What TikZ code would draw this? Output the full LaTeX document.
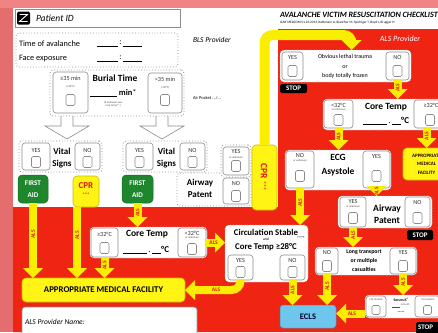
\documentclass[tikz,border=0pt]{standalone}
\usepackage{fontspec}
\setmainfont{Carlito}
\usetikzlibrary{arrows.meta,calc}
\definecolor{pinkbg}{RGB}{240,132,132}
\definecolor{leftbg}{RGB}{228,110,110}
\definecolor{alsred}{RGB}{240,36,18}
\definecolor{alsyel}{RGB}{250,238,0}
\definecolor{yelbox}{RGB}{255,244,20}
\definecolor{yeledge}{RGB}{200,190,0}
\definecolor{greenbox}{RGB}{30,135,45}
\definecolor{eclsblue}{RGB}{110,198,236}
\definecolor{boxgray}{RGB}{140,140,140}
\definecolor{textred}{RGB}{225,20,20}
\newcommand\fsz[2]{\fontsize{#1}{#2}\selectfont}
\newcommand\mybox[6]{\node[#1, anchor=north west, minimum width={(#5-#3)*1pt}, minimum height={(#6-#4)*1pt}] (#2) at (#3,#4) {};}
\newcommand\myblank[1]{\underline{\hspace{#1}}}
\begin{document}
\begin{tikzpicture}[x=1pt,y=-1pt,
  box/.style={draw=boxgray, fill=white, rounded corners=3pt, line width=0.6pt, inner sep=0pt, outer sep=0pt},
  dbox/.style={draw=boxgray, fill=white, rounded corners=3pt, line width=0.8pt, dotted, inner sep=0pt, outer sep=0pt},
  obox/.style={draw=boxgray!60, fill=white, rounded corners=4pt, line width=0.8pt, dotted, inner sep=0pt, outer sep=0pt},
  pbox/.style={draw=boxgray, fill=white, line width=0.7pt, inner sep=0pt, outer sep=0pt},
  gbox/.style={draw=greenbox!80!black, fill=greenbox, rounded corners=4pt, line width=0.5pt, inner sep=0pt, outer sep=0pt},
  ybox/.style={draw=yeledge, fill=yelbox, rounded corners=4pt, line width=0.6pt, inner sep=0pt, outer sep=0pt},
  bbox/.style={draw=eclsblue!70!black, fill=eclsblue, rounded corners=3pt, line width=0.5pt, inner sep=0pt, outer sep=0pt},
  stopbox/.style={fill=black, rounded corners=1.5pt, inner sep=0pt, outer sep=0pt},
  chk/.style={draw=boxgray, fill=white, rounded corners=1.5pt, line width=0.6pt, minimum width=9pt, minimum height=11pt, inner sep=0pt},
  schk/.style={chk, minimum width=8pt, minimum height=9pt},
  txt/.style={inner sep=0pt, outer sep=0pt, align=center},
  yn/.style={txt, font=\fsz{6.2}{7}, text=black!80},
  tiny/.style={txt, font=\fsz{2.8}{3.2}, text=black!70},
  bt/.style={txt, font=\bfseries\fsz{9.5}{10}},
  stoptxt/.style={txt, font=\bfseries\fsz{7}{7}, text=white},
  als/.style={draw=alsyel, line width=8pt, -{Triangle[width=20pt,length=10pt,line width=0pt]}},
  alslab/.style={txt, font=\bfseries\fsz{5.5}{6}, text=textred, rotate=90},
  alslabh/.style={txt, font=\bfseries\fsz{5.5}{6}, text=textred},
  hollow/.style={draw=boxgray, line width=0.6pt, line join=miter}
]
\useasboundingbox (0,0) rectangle (438,332);
\clip (0,0) rectangle (438,332);
% background
\fill[pinkbg] (0,0) rectangle (438,332);
\fill[leftbg] (0,8) rectangle (13,332);
\fill[white] (13,8) rectangle (438,332);
\fill[alsred] (278,29) -- (438,29) -- (438,332) -- (13,332) -- (13,207) -- (278,207) -- cycle;

% patient id
\mybox{pbox}{pid}{15}{9}{180}{27}
\node[fill=black, rounded corners=1.5pt, minimum size=13pt, inner sep=0pt] (icon) at (23.5,18) {};
\draw[white, line width=0.9pt] (19.5,14.5) -- (27.5,14.5) -- (19.5,21.5) -- (27.5,21.5);
\node[txt, anchor=west, font=\itshape\fsz{9.5}{11}] (pidt) at (36,18) {Patient ID};

% time
\mybox{dbox}{timebox}{16}{33}{178}{67}
\node[txt, anchor=west, font=\fsz{8.3}{9}] (ta) at (19,44) {Time of avalanche};
\node[txt, anchor=west, font=\fsz{8.3}{9}] (fe) at (19,59) {Face exposure};
\node[txt, anchor=west, font=\fsz{8.3}{9}] (tab) at (97,44) {\myblank{21pt}\,:\,\myblank{19pt}};
\node[txt, anchor=west, font=\fsz{8.3}{9}] (feb) at (97,59) {\myblank{21pt}\,:\,\myblank{19pt}};

\node[txt, anchor=west, font=\itshape\fsz{7.5}{9}] (bls) at (193,40) {BLS Provider};
\node[txt, anchor=west, font=\fsz{4.5}{5}] (apk) at (193,98) {Air Pocket .../...};

% burial
\mybox{dbox}{burial}{50}{70}{184}{116}
\mybox{box}{le35}{53}{72}{88}{113}
\node[yn] (le35a) at (70.5,78) {≤35 min};
\node[tiny] (le35b) at (70.5,87) {(≥32°C)};
\node[chk] (le35c) at (70.5,100) {};
\node[bt] (btt) at (115,78) {Burial Time};
\node[txt, anchor=west, font=\fsz{8.5}{9}] (btb) at (90,93) {\myblank{27pt}\ \textbf{min}*};
\node[tiny] (btu) at (113,104) {(if unknown use\\core temp**)};
\mybox{box}{gt35}{148}{73}{182}{113}
\node[yn] (gt35a) at (165,79) {>35 min};
\node[tiny] (gt35b) at (165,88) {(<32°C)};
\node[chk] (gt35c) at (165,100) {};

% hollow arrows
\draw[hollow] (61,116) -- (61,126) -- (45,126) -- (67,139) -- (89,126) -- (73,126) -- (73,116);
\draw[hollow] (156,116) -- (156,126) -- (140,126) -- (162,139) -- (184,126) -- (168,126) -- (168,116);

% vital signs left
\mybox{dbox}{vitL}{19}{141}{102}{172}
\mybox{box}{yes1}{22}{143}{50}{170}
\node[yn] (yes1t) at (36,151) {YES};
\node[chk] (yes1c) at (36,162) {};
\node[txt, font=\bfseries\fsz{9}{12}] (vit1) at (62,158) {Vital\\Signs};
\mybox{box}{no1}{75}{143}{100}{170}
\node[yn] (no1t) at (87.5,151) {NO};
\node[chk] (no1c) at (87.5,162) {};

% vital signs right
\mybox{dbox}{vitR}{123}{141}{207}{172}
\mybox{box}{yes2}{126}{143}{153}{170}
\node[yn] (yes2t) at (139.5,151) {YES};
\node[chk] (yes2c) at (139.5,162) {};
\node[txt, font=\bfseries\fsz{9}{12}] (vit2) at (166.5,158) {Vital\\Signs};
\mybox{box}{no2}{180}{143}{205}{170}
\node[yn] (no2t) at (192.5,151) {NO};
\node[chk] (no2c) at (192.5,162) {};

% first aid / cpr
\mybox{gbox}{fa1}{18}{175}{48}{203}
\node[txt, font=\bfseries\fsz{7.2}{12}, text=white] (fa1t) at (fa1) {FIRST\\AID};
\mybox{ybox}{cpr1}{73}{176}{99}{207}
\node[txt, font=\bfseries\fsz{9}{9}, text=textred] (cpr1t) at (86,186) {CPR};
\node[txt, font=\bfseries\fsz{5}{5}, text=textred] (cpr1d) at (86,195) {***};
\mybox{gbox}{fa2}{122}{175}{153}{203}
\node[txt, font=\bfseries\fsz{7.2}{12}, text=white] (fa2t) at (fa2) {FIRST\\AID};

% airway (BLS)
\mybox{dbox}{awBo}{177}{173}{251}{206}
\mybox{dbox}{awBy}{221}{145}{251}{177}
\mybox{box}{yes3}{223}{147}{249}{175}
\node[yn] (yes3t) at (236,152) {YES};
\node[tiny] (yes3u) at (236,157.5) {or unknown};
\node[chk] (yes3c) at (236,166) {};
\node[txt, font=\bfseries\fsz{9}{12}] (aw1) at (200,188.5) {Airway\\Patent};
\mybox{box}{no3}{223}{178}{249}{204}
\node[yn] (no3t) at (236,184) {NO};
\node[chk] (no3c) at (236,196) {};

% big CPR and loop
\mybox{ybox}{cprB}{252}{145}{277}{210}
\node[txt, rotate=-90, font=\bfseries\fsz{9.5}{10}, text=textred] (cprBt) at (264,171) {CPR};
\node[txt, rotate=-90, font=\bfseries\fsz{6}{6}, text=textred] (cprBd) at (264,186) {***};

% header
\node[txt, anchor=west, font=\bfseries\itshape\fsz{8.1}{9}] (hd) at (280,15) {AVALANCHE VICTIM RESUSCITATION CHECKLIST};
\node[txt, anchor=west, font=\fsz{3.4}{3.5}] (hd2) at (280,23) {ICAR MEDCOM 01.23.2013, Kottmann A, Blancher M, Spichiger T, Boyd J, Brugger H};
\node[txt, font=\itshape\fsz{8}{9}, text=white] (alsp) at (400,39) {ALS Provider};

% lethal
\mybox{obox}{lethal}{280}{50}{411}{82}
\mybox{box}{yesL}{282}{52}{303}{80}
\node[yn] (yesLt) at (292.5,58) {YES};
\node[chk] (yesLc) at (292.5,71) {};
\node[txt, font=\fsz{6}{9.5}] (leth) at (345,66.5) {Obvious lethal trauma\\or\\body totally frozen};
\mybox{box}{noL}{386}{52}{409}{80}
\node[yn] (noLt) at (397.5,58) {NO};
\node[chk] (noLc) at (397.5,71) {};
\mybox{stopbox}{stop1}{280}{84}{307}{93}
\node[stoptxt] (stop1t) at (stop1) {STOP};

\draw[als, line width=10pt, rounded corners=8pt] (cprB.north) |- ($(lethal.north)+(6,-15)$) -- ($(lethal.north)+(6,0)$);

% core temp right
\mybox{obox}{coreR}{323}{99}{448}{130}
\mybox{box}{lt32R}{324}{100}{353}{128}
\node[yn] (lt32Rt) at (338.5,105) {<32°C};
\node[tiny] (lt32Ru) at (338.5,110) {or unknown};
\node[chk] (lt32Rc) at (338.5,120) {};
\node[bt] (ctR) at (386,107) {Core Temp};
\node[txt, font=\fsz{9}{10}] (ctRb) at (386,121) {\myblank{24pt}\,.\,\myblank{9pt}\textbf{°C}};
\mybox{box}{ge32R}{414}{100}{448}{128}
\node[yn] (ge32Rt) at (431,105) {≥32°C};
\node[chk] (ge32Rc) at (430,120) {};

\mybox{ybox}{facR}{403}{148}{450}{180}
\node[txt, font=\bfseries\fsz{5}{8.5}, text=black!85!red] (facRt) at (facR) {APPROPRIATE\\MEDICAL\\FACILITY};

% ECG
\mybox{obox}{ecg}{285}{150}{391}{190}
\mybox{box}{noE}{286}{151}{314}{188}
\node[yn] (noEt) at (300,156) {NO};
\node[tiny] (noEu) at (300,161) {or unknown};
\node[chk] (noEc) at (300,176) {};
\node[txt, font=\bfseries\fsz{9.5}{14}] (ecgt) at (338,165) {ECG\\Asystole};
\mybox{box}{yesE}{363}{151}{390}{188}
\node[yn] (yesEt) at (376.5,157) {YES};
\node[chk] (yesEc) at (376.5,176) {};

% airway ALS
\mybox{obox}{awR}{338}{196}{432}{228}
\mybox{box}{yesA}{340}{197}{366}{227}
\node[yn] (yesAt) at (353,202) {YES};
\node[tiny] (yesAu) at (353,207) {or unknown};
\node[chk] (yesAc) at (353,218) {};
\node[txt, font=\bfseries\fsz{9.5}{12}] (awRt) at (387,214) {Airway\\Patent};
\mybox{box}{noA}{405}{197}{430}{227}
\node[yn] (noAt) at (417.5,203) {NO};
\node[chk] (noAc) at (417.5,218) {};
\mybox{stopbox}{stop2}{407}{230}{433}{240}
\node[stoptxt] (stop2t) at (stop2) {STOP};

% long transport
\mybox{obox}{longT}{315}{247}{417}{275}
\mybox{box}{noLT}{316}{248}{338}{274}
\node[yn] (noLTt) at (327,253) {NO};
\node[chk] (noLTc) at (327,266) {};
\node[txt, font=\bfseries\fsz{5.8}{9}] (ltt) at (364,261) {Long transport\\or multiple\\casualties};
\mybox{box}{yesLT}{390}{248}{416}{274}
\node[yn] (yesLTt) at (403,253) {YES};
\node[chk] (yesLTc) at (403,266) {};

% serum
\mybox{obox}{serum}{365}{295}{448}{318}
\mybox{box}{le12}{366}{296}{386}{317}
\node[tiny] (le12t) at (376,300) {≤12 mmol/L};
\node[schk] (le12c) at (376,310) {};
\node[txt, font=\bfseries\fsz{3.8}{4}] (ser1) at (401,300) {Serum K\textsuperscript{+}};
\node[tiny] (ser2) at (401,306) {\myblank{8pt} mmol/L};
\node[txt, font=\bfseries\fsz{5}{5}] (ser3) at (401,312) {.....};
\mybox{box}{gt12}{415}{296}{440}{317}
\node[tiny] (gt12t) at (427.5,300) {>12 mmol/L};
\node[schk] (gt12c) at (427.5,310) {};
\mybox{stopbox}{stop3}{416}{322}{448}{334}
\node[stoptxt, anchor=west] (stop3t) at (418,327.5) {STOP};

% ECLS
\mybox{bbox}{ecls}{280}{305}{336}{328}
\node[txt, font=\bfseries\fsz{8.5}{9}, text=black!80!blue] (eclst) at (ecls) {ECLS};

% circulation
\mybox{obox}{circ}{225}{225}{308}{282}
\node[txt, font=\bfseries\fsz{8.8}{9}] (ci1) at (266,232) {Circulation Stable};
\node[txt, font=\fsz{3.8}{4}] (ci2) at (266,239.5) {and};
\node[txt, font=\bfseries\fsz{8.8}{9}] (ci3) at (266,247) {Core Temp ≥28°C};
\node[txt, font=\bfseries\fsz{4}{4}] (ci4) at (301,238) {****};
\mybox{box}{circY}{228}{255}{253}{280}
\node[yn] (circYt) at (240.5,261) {YES};
\node[chk] (circYc) at (240.5,272) {};
\mybox{box}{circN}{280}{255}{305}{280}
\node[yn] (circNt) at (292.5,261) {NO};
\node[chk] (circNc) at (292.5,272) {};

% core temp left
\mybox{obox}{coreL}{90}{227}{207}{258}
\mybox{box}{ge32L}{91}{228}{118}{257}
\node[yn] (ge32Lt) at (104.5,234) {≥32°C};
\node[chk] (ge32Lc) at (104.5,248) {};
\node[bt] (ctL) at (147,234) {Core Temp};
\node[txt, font=\fsz{9}{10}] (ctLb) at (146,250) {\myblank{24pt}\,.\,\myblank{9pt}\textbf{°C}};
\mybox{box}{lt32L}{178}{228}{206}{257}
\node[yn] (lt32Lt) at (192,233) {<32°C};
\node[tiny] (lt32Lu) at (192,238) {or unknown};
\node[chk] (lt32Lc) at (192,249) {};

% facility + provider
\mybox{ybox}{facL}{22}{278}{185}{302}
\node[txt, font=\bfseries\fsz{8.8}{9}] (facLt) at (facL) {APPROPRIATE MEDICAL FACILITY};
\mybox{box}{prov}{22}{307}{197}{345}
\node[txt, anchor=west, font=\itshape\fsz{7.5}{9}] (provt) at (25,322) {ALS Provider Name:};

% ALS arrows
\coordinate (cpr1a) at ($(cpr1.south)+(-9,0)$);
\draw[als] (fa1.south) -- (fa1.south |- facL.north) node[alslab, pos=0.42] (l1) {ALS};
\draw[als] (cpr1a) -- (cpr1a |- facL.north) node[alslab, pos=0.4] (l2) {ALS};
\draw[als] (fa2.south) -- (fa2.south |- coreL.north) node[alslab, pos=0.4] (l3) {ALS};
\draw[als] (ge32L.south) -- (ge32L.south |- facL.north) node[alslab, pos=0.4] (l4) {ALS};
\draw[als] (lt32L.east) -- (lt32L.east -| circ.west) node[alslabh, pos=0.4] (l5) {ALS};
\draw[als, rounded corners=9pt] (circY.south) |- (facL.east) node[alslabh, pos=0.72] (l6) {ALS};
\draw[als] (noL.south) -- (noL.south |- coreR.north) node[alslab, pos=0.4] (l7) {ALS};
\draw[als] (lt32R.south) -- (lt32R.south |- ecg.north) node[alslab, pos=0.4] (l8) {ALS};
\draw[als] (ge32R.south -| facR.center) -- (facR.north) node[alslab, pos=0.4] (l9) {ALS};
\draw[als] (yesE.south) -- (yesE.south |- awR.north) node[alslab, pos=0.4] (l10) {ALS};
\draw[als] (noE.south) -- (noE.south |- circ.north) node[alslab, pos=0.4] (l11) {ALS};
\draw[als] (yesA.south) -- (yesA.south |- longT.north) node[alslab, pos=0.4] (l12) {ALS};
\draw[als] (noLT.south) -- (noLT.south |- ecls.north) node[alslab, pos=0.4] (l13) {ALS};
\draw[als] (circN.south) -- (circN.south |- ecls.north) node[alslab, pos=0.4] (l14) {ALS};
\draw[als] (yesLT.south) -- (yesLT.south |- serum.north) node[alslab, pos=0.4] (l15) {ALS};
\coordinate (eclsin) at ($(ecls.east)+(0,-3)$);
\draw[als] (eclsin -| serum.west) -- (eclsin) node[alslabh, pos=0.45] (l16) {ALS};
\end{tikzpicture}
\end{document}
